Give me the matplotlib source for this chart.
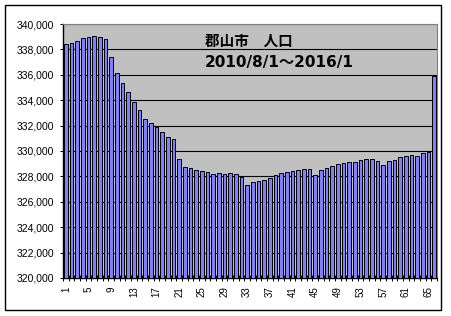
import matplotlib
matplotlib.use('Agg')
import matplotlib.pyplot as plt
from matplotlib.patches import Rectangle
from matplotlib.ticker import FuncFormatter, MultipleLocator
import numpy as np

# Koriyama population, monthly from 2010/8/1 to 2016/1
months = list(range(1, 67))
population = [
    338400, 338500, 338700, 338870, 338950, 339030, 338950, 338820, 337380, 336120,
    335330, 334620, 333830, 333200, 332500, 332200, 331890, 331470, 331080, 330920,
    329370, 328740, 328660, 328500, 328450, 328320, 328190, 328240, 328190, 328240,
    328160, 327980, 327300, 327530, 327610, 327690, 327850, 328080, 328240, 328320,
    328400, 328480, 328560, 328560, 328080, 328480, 328640, 328800, 328950, 329030,
    329110, 329110, 329270, 329350, 329350, 329190, 328870, 329190, 329270, 329500,
    329580, 329660, 329580, 329820, 329920, 335900,
]
x_labels = list(range(1, 67, 4))
title_line1 = '郡山市　人口'
title_line2 = '2010/8/1～2016/1'

W, H = 452, 316
fig = plt.figure(figsize=(W / 100, H / 100), dpi=100)
fig.patch.set_facecolor('white')

# plot area in pixel coords: x 63..437, y 24..278
ax = fig.add_axes([63 / W, 1 - 278 / H, (437 - 63) / W, (278 - 24) / H])
ax.set_facecolor('#c0c0c0')

ax.bar(months, population, width=0.6, color='#8080ff', edgecolor='black',
       linewidth=0.7, zorder=3)

ax.set_xlim(0.5, 66.5)
ax.set_ylim(320000, 340000)
ax.yaxis.set_major_locator(MultipleLocator(2000))
ax.yaxis.set_major_formatter(FuncFormatter(lambda v, p: f'{int(v):,}'))
ax.grid(axis='y', color='black', linewidth=0.8, zorder=1)

# labels every 4 months, tick marks between every category
ax.set_xticks(x_labels)
ax.set_xticklabels([str(v) for v in x_labels], rotation=90)
ax.set_xticks(np.arange(0.5, 67, 1), minor=True)
ax.tick_params(axis='x', which='major', length=0, pad=6, labelsize=7)
ax.tick_params(axis='x', which='minor', direction='inout', length=4, width=0.7)
ax.tick_params(axis='y', direction='inout', length=5, width=0.7, labelsize=7.5, pad=4)
for lab in ax.get_xticklabels() + ax.get_yticklabels():
    lab.set_family(['Liberation Sans', 'DejaVu Sans'])

for side in ['top', 'right']:
    ax.spines[side].set_color('#808080')
for side in ['left', 'bottom']:
    ax.spines[side].set_color('black')
    ax.spines[side].set_linewidth(1.0)

fig.text(205 / W, 1 - 41 / H, title_line1, fontsize=10.5, fontweight='bold',
         family=['Noto Sans CJK JP', 'DejaVu Sans'], va='center', ha='left')
fig.text(205 / W, 1 - 63 / H, title_line2, fontsize=11, fontweight='bold',
         family=['DejaVu Sans', 'Noto Sans CJK JP'], va='center', ha='left')

# outer chart frame
fig.patches.append(Rectangle((5.5 / W, 1 - 310 / H), 436 / W, 305 / H,
                             transform=fig.transFigure, fill=False,
                             edgecolor='black', linewidth=1.0))

fig.savefig('out.png', dpi=100)
